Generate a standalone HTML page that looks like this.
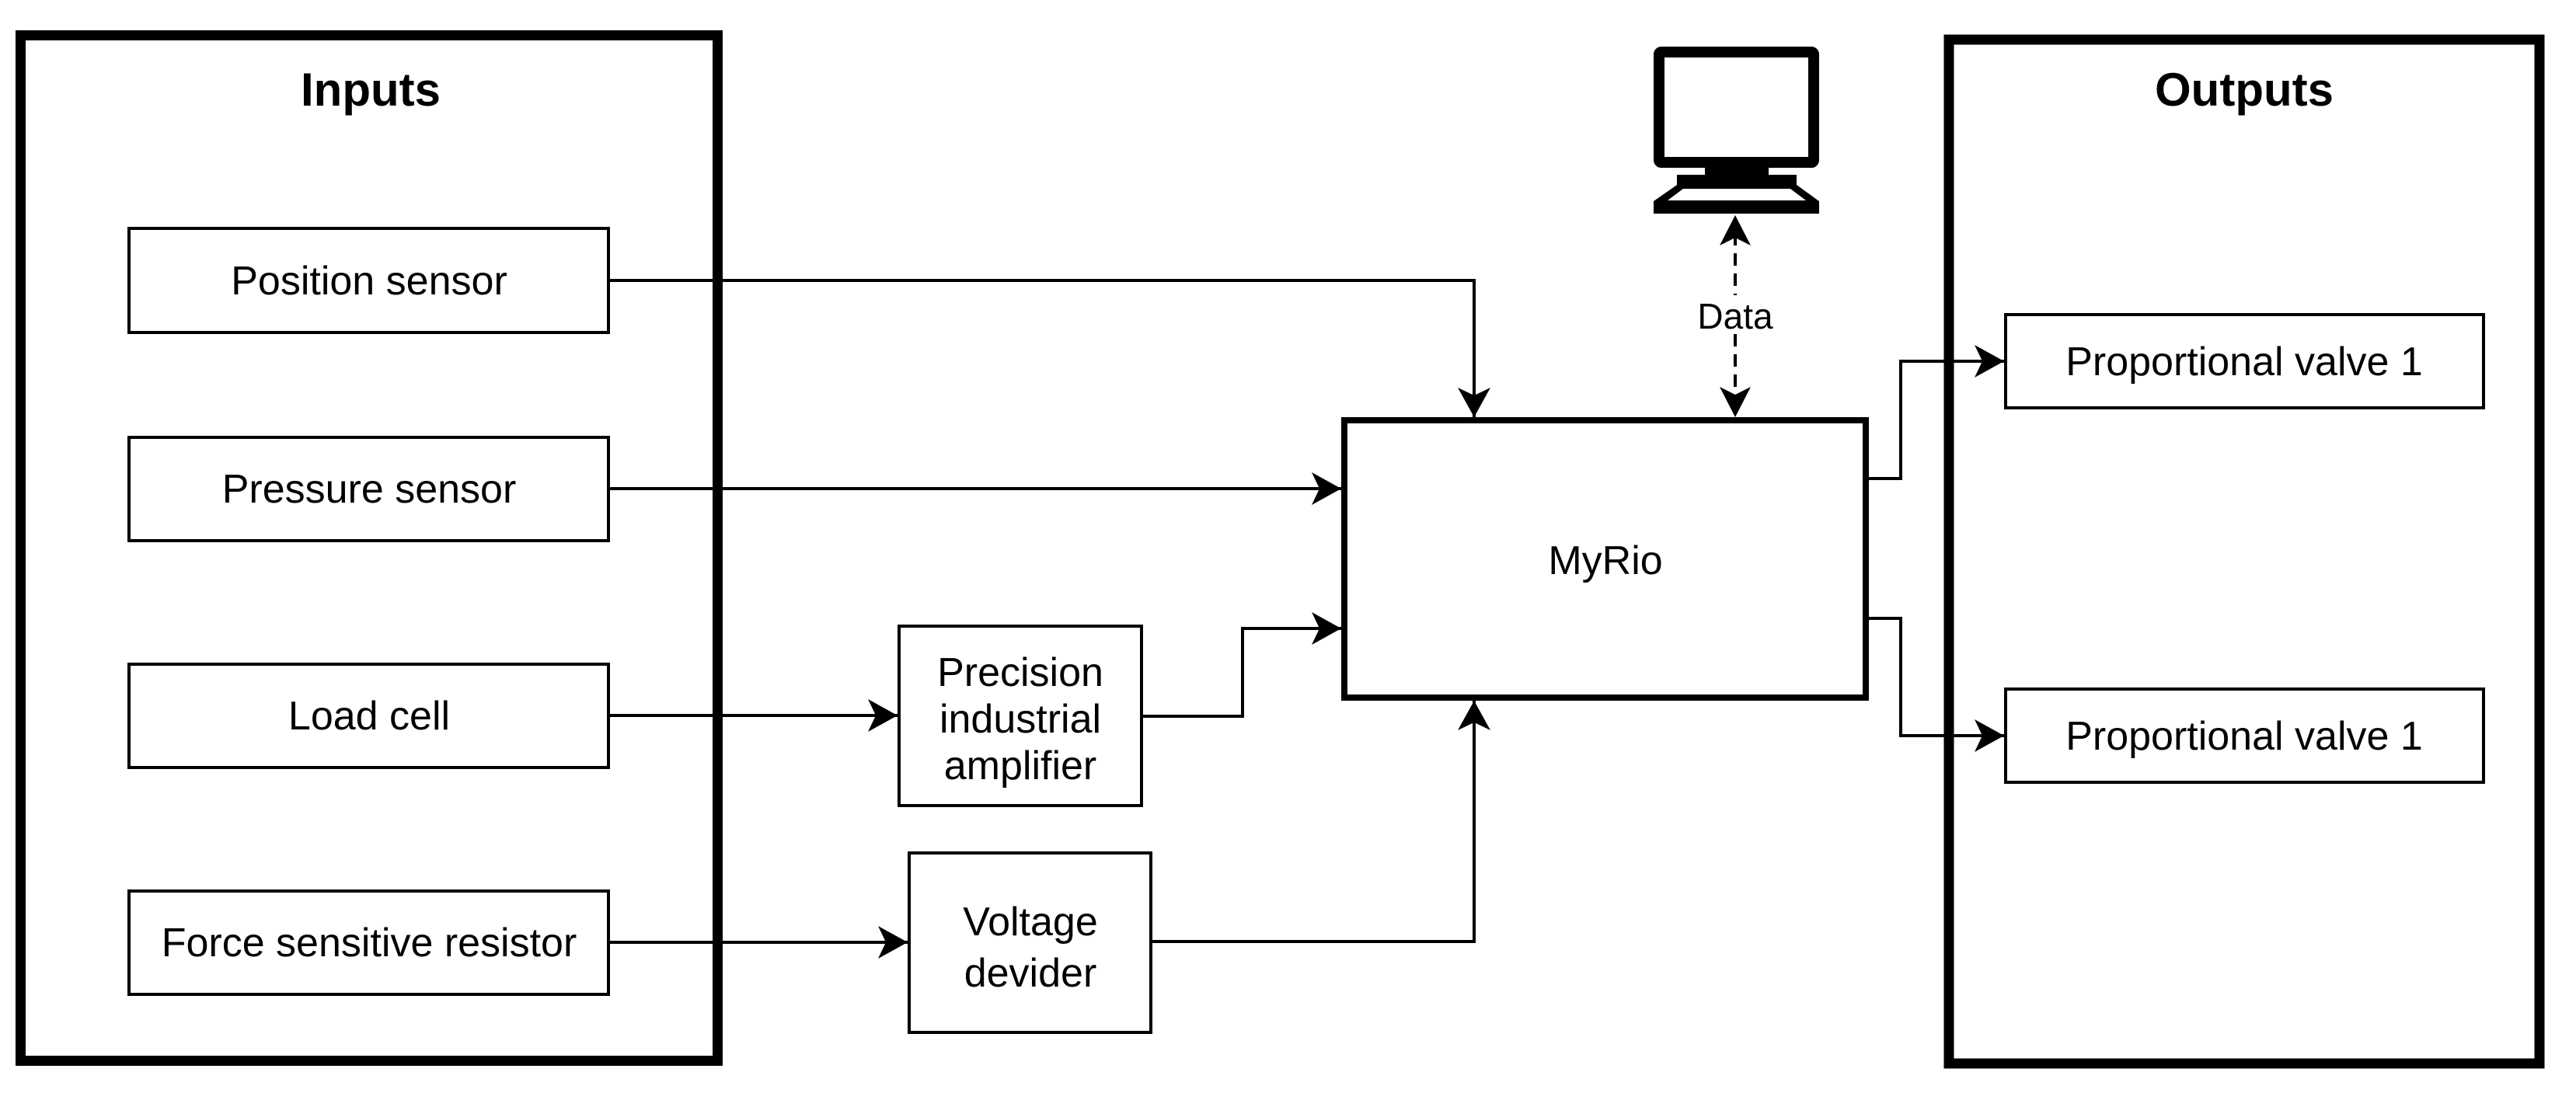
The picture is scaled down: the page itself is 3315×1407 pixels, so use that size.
<!DOCTYPE html>
<html><head><meta charset="utf-8"><style>
html,body{margin:0;padding:0;background:#fff;}
svg{display:block;}
text{font-family:"Liberation Sans",Arial,sans-serif;fill:#000;}
</style></head><body>
<svg width="3315" height="1407" viewBox="0 0 3315 1407" xmlns="http://www.w3.org/2000/svg">
<defs>
<marker id="ah" markerUnits="userSpaceOnUse" markerWidth="40" markerHeight="44" refX="38" refY="21" orient="auto">
<path d="M38,21 L0,0 L10,21 L0,42 Z" fill="#000"/>
</marker>
</defs>
<rect width="3315" height="1407" fill="#fff"/>
<!-- Inputs container -->
<rect x="26.5" y="45.5" width="897" height="1320" fill="none" stroke="#000" stroke-width="13"/>
<text x="477" y="136" font-size="60" font-weight="bold" text-anchor="middle">Inputs</text>
<!-- Outputs container -->
<rect x="2508" y="51" width="760" height="1318" fill="none" stroke="#000" stroke-width="13"/>
<text x="2888" y="136" font-size="60" font-weight="bold" text-anchor="middle">Outputs</text>

<g fill="#fff" stroke="#000" stroke-width="4">
<rect x="166" y="294" width="617" height="134"/>
<rect x="166" y="563" width="617" height="133"/>
<rect x="166" y="855" width="617" height="133"/>
<rect x="166" y="1147" width="617" height="133"/>
<rect x="1157" y="806" width="312" height="231"/>
<rect x="1170" y="1098" width="311" height="231"/>
<rect x="2581" y="405" width="615" height="120"/>
<rect x="2581" y="887" width="615" height="120"/>
</g>
<rect x="1730" y="541" width="671" height="357" fill="#fff" stroke="#000" stroke-width="8"/>

<g font-size="52" text-anchor="middle">
<text x="475" y="379">Position sensor</text>
<text x="475" y="647">Pressure sensor</text>
<text x="475" y="939">Load cell</text>
<text x="475" y="1231">Force sensitive resistor</text>
<text x="1313" y="883">Precision</text>
<text x="1313" y="943">industrial</text>
<text x="1313" y="1003">amplifier</text>
<text x="1326" y="1204">Voltage</text>
<text x="1326" y="1270">devider</text>
<text x="2066" y="739">MyRio</text>
<text x="2888" y="483">Proportional valve 1</text>
<text x="2888" y="965">Proportional valve 1</text>
</g>

<g fill="none" stroke="#000" stroke-width="4" marker-end="url(#ah)">
<path d="M783,361 H1897 V537"/>
<path d="M783,629 H1726"/>
<path d="M783,921 H1155"/>
<path d="M1469,922 H1599 V809 H1726"/>
<path d="M783,1213 H1168"/>
<path d="M1481,1212 H1897 V902"/>
<path d="M2405,616 H2446 V465 H2579"/>
<path d="M2405,796 H2446 V947 H2579"/>
</g>

<!-- Data dashed bidirectional -->
<path d="M2233,300 V515" stroke="#000" stroke-width="4" stroke-dasharray="16,10" fill="none"/>
<path d="M2233,277 L2213,316 L2233,306 L2253,316 Z" fill="#000"/>
<path d="M2233,537 L2213,498 L2233,508 L2253,498 Z" fill="#000"/>
<rect x="2180" y="380" width="106" height="50" fill="#fff"/>
<text x="2233" y="423" font-size="46" text-anchor="middle">Data</text>

<!-- Computer icon -->
<rect x="2135" y="67" width="199" height="142" rx="3" fill="#fff" stroke="#000" stroke-width="14"/>
<rect x="2194" y="215" width="82" height="12" fill="#000"/>
<rect x="2158" y="225" width="154" height="15" fill="#000"/>
<path d="M2158,238 H2312 L2341,259 V275 H2128 V259 Z" fill="#000"/>
<path d="M2166,243 H2304 L2324,258 H2146 Z" fill="#fff"/>
</svg>
</body></html>
